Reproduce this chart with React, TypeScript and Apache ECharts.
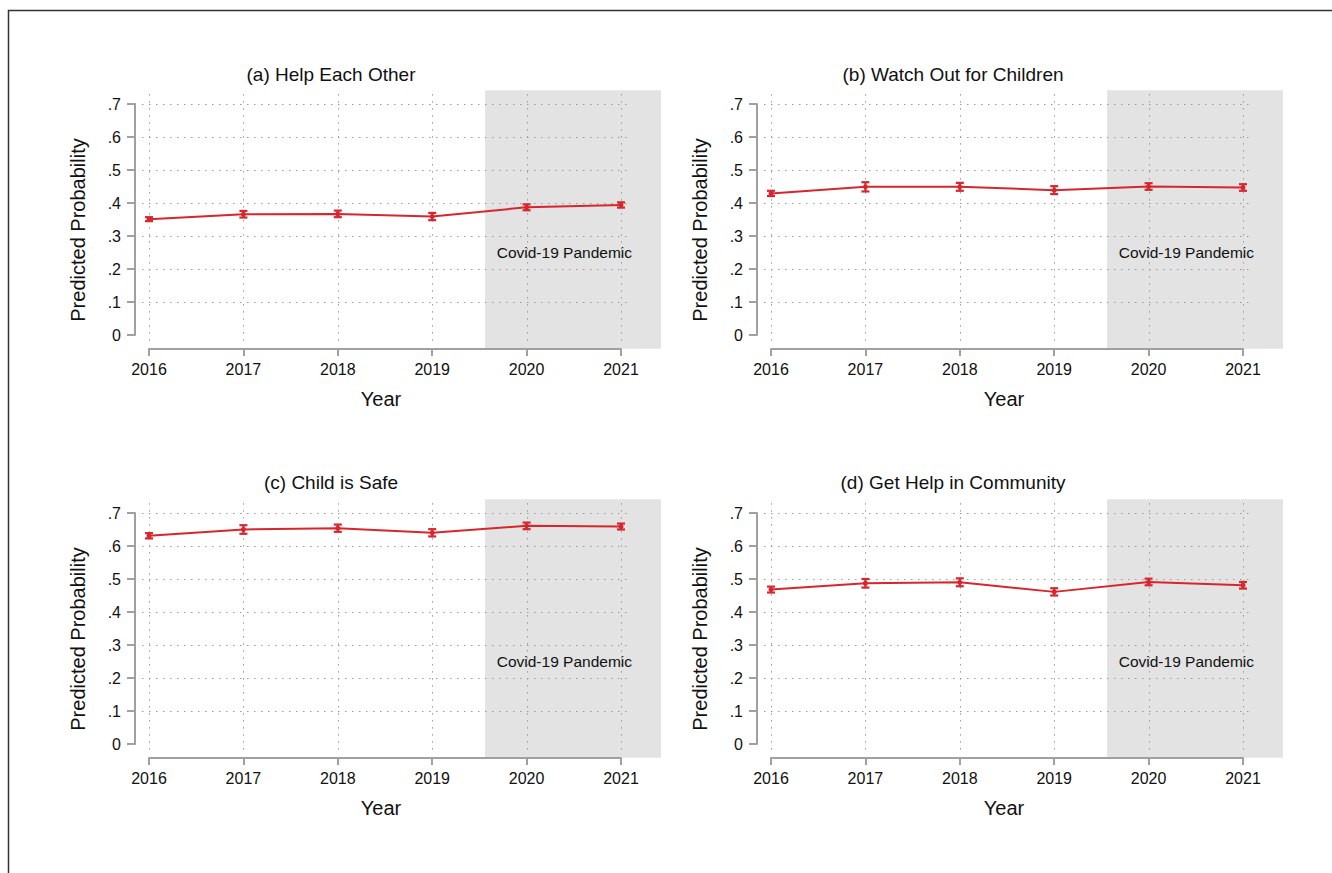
import React, { useEffect, useRef } from "react";
import * as echarts from "echarts";

const YEARS = [2016, 2017, 2018, 2019, 2020, 2021];
const Y_TICKS = [0, 0.1, 0.2, 0.3, 0.4, 0.5, 0.6, 0.7];

const PANEL_TITLES = [
  "(a) Help Each Other",
  "(b) Watch Out for Children",
  "(c) Child is Safe",
  "(d) Get Help in Community",
];
const X_TITLE = "Year";
const Y_TITLE = "Predicted Probability";

const HELP_EACH_OTHER = [0.351, 0.366, 0.367, 0.359, 0.387, 0.394];
const HELP_EACH_OTHER_CI = [0.006, 0.01, 0.01, 0.011, 0.009, 0.008];
const WATCH_CHILDREN = [0.429, 0.449, 0.449, 0.439, 0.45, 0.447];
const WATCH_CHILDREN_CI = [0.008, 0.014, 0.012, 0.012, 0.01, 0.01];
const CHILD_SAFE = [0.631, 0.65, 0.654, 0.64, 0.661, 0.659];
const CHILD_SAFE_CI = [0.008, 0.013, 0.011, 0.011, 0.01, 0.009];
const GET_HELP = [0.468, 0.487, 0.49, 0.461, 0.491, 0.481];
const GET_HELP_CI = [0.009, 0.013, 0.012, 0.011, 0.01, 0.01];

const PANEL_VALUES = [HELP_EACH_OTHER, WATCH_CHILDREN, CHILD_SAFE, GET_HELP];
const PANEL_CI = [HELP_EACH_OTHER_CI, WATCH_CHILDREN_CI, CHILD_SAFE_CI, GET_HELP_CI];

const PANDEMIC_LABEL = "Covid-19 Pandemic";
const PANDEMIC_START = 2019.56;
const PLOT_X_MIN = 2015.852;
const PLOT_X_MAX = 2021.424;
const PLOT_Y_MIN = -0.042;
const PLOT_Y_MAX = 0.742;

const FONT = "'Liberation Sans', Arial, Helvetica, sans-serif";
const RED = "#d7262d";
const AXIS_GRAY = "#a0a0a0";
const GRID_GRAY = "#9a9a9a";
const BG_GRAY = "#e2e3e2";
const TEXT = "#111";

// layout (px)
const COL_LEFT = [149, 771];
const ROW_TOP = [104, 513];
const GRID_W = 472;
const GRID_H = 231;
const TITLE_X = [331, 953];
const TITLE_Y = [74, 482];
const YNAME_X = [78, 700];
const YNAME_DY = 126; // from grid top to y-title centre
const XNAME_X = [381, 1004];
const XNAME_DY = 295; // from grid top to x-title centre

export default function App() {
  const ref = useRef<HTMLDivElement>(null);

  useEffect(() => {
    if (!ref.current) return;
    const chart = echarts.init(ref.current, null, { renderer: "svg" });

    const grids: any[] = [];
    const xAxes: any[] = [];
    const yAxes: any[] = [];
    const series: any[] = [];
    const graphics: any[] = [];

    for (let p = 0; p < 4; p++) {
      const col = p % 2;
      const row = Math.floor(p / 2);
      grids.push({
        left: COL_LEFT[col],
        top: ROW_TOP[row],
        width: GRID_W,
        height: GRID_H,
        containLabel: false,
      });
      xAxes.push({
        type: "value",
        gridIndex: p,
        min: 2016,
        max: 2021,
        interval: 1,
        offset: 14,
        axisLine: { show: true, onZero: false, lineStyle: { color: AXIS_GRAY, width: 2 } },
        axisTick: { show: true, length: 7, lineStyle: { color: AXIS_GRAY, width: 2 } },
        axisLabel: {
          fontFamily: FONT,
          fontSize: 16,
          color: TEXT,
          margin: 12,
          formatter: (v: number) => String(v),
        },
        splitLine: { show: false },
      });
      yAxes.push({
        type: "value",
        gridIndex: p,
        min: 0,
        max: 0.7,
        interval: 0.1,
        offset: 14,
        axisLine: { show: true, onZero: false, lineStyle: { color: AXIS_GRAY, width: 2 } },
        axisTick: { show: true, length: 8, lineStyle: { color: AXIS_GRAY, width: 2 } },
        axisLabel: {
          fontFamily: FONT,
          fontSize: 16,
          color: TEXT,
          margin: 14,
          formatter: (v: number) => (v === 0 ? "0" : "." + Math.round(v * 10)),
        },
        splitLine: { show: false },
      });

      // background: plot region, pandemic shading, dotted grid, label
      series.push({
        type: "custom",
        xAxisIndex: p,
        yAxisIndex: p,
        z: 0,
        silent: true,
        data: [[2016, 0]],
        renderItem: (params: any, api: any) => {
          const children: any[] = [];
          const a = api.coord([PANDEMIC_START, PLOT_Y_MAX]);
          const b = api.coord([PLOT_X_MAX, PLOT_Y_MIN]);
          children.push({
            type: "rect",
            shape: { x: a[0], y: a[1], width: b[0] - a[0], height: b[1] - a[1] },
            style: { fill: BG_GRAY },
          });
          const xl = api.coord([YEARS[0], 0])[0] - 7;
          const xr = api.coord([YEARS[YEARS.length - 1], 0])[0] + 11;
          Y_TICKS.forEach((t) => {
            if (t === 0) return;
            const y = Math.round(api.coord([2016, t])[1]) + 0.5;
            children.push({
              type: "line",
              shape: { x1: xl, y1: y, x2: xr, y2: y },
              style: { stroke: GRID_GRAY, lineWidth: 1, lineDash: [1.5, 5.5] },
            });
          });
          const yt = api.coord([2016, PLOT_Y_MAX])[1] + 4;
          const yb = api.coord([2016, PLOT_Y_MIN])[1] - 4;
          YEARS.forEach((yr) => {
            const x = Math.round(api.coord([yr, 0])[0]) + 0.5;
            children.push({
              type: "line",
              shape: { x1: x, y1: yt, x2: x, y2: yb },
              style: { stroke: GRID_GRAY, lineWidth: 1, lineDash: [1.5, 5.5] },
            });
          });
          const tp = api.coord([2020.4, 0.25]);
          children.push({
            type: "text",
            x: tp[0],
            y: tp[1],
            style: {
              text: PANDEMIC_LABEL,
              fontFamily: FONT,
              fontSize: 15.5,
              fill: TEXT,
              align: "center",
              verticalAlign: "middle",
            },
          });
          return { type: "group", children };
        },
      });

      const vals = PANEL_VALUES[p];
      const cis = PANEL_CI[p];
      series.push({
        type: "line",
        xAxisIndex: p,
        yAxisIndex: p,
        z: 3,
        data: YEARS.map((y, i) => [y, vals[i]]),
        symbol: "circle",
        symbolSize: 5,
        lineStyle: { color: RED, width: 2 },
        itemStyle: { color: RED },
      });
      series.push({
        type: "custom",
        xAxisIndex: p,
        yAxisIndex: p,
        z: 4,
        data: YEARS.map((y, i) => [y, vals[i] - cis[i], vals[i] + cis[i]]),
        encode: { x: 0, y: [1, 2] },
        renderItem: (params: any, api: any) => {
          const x = api.value(0);
          const lo = api.coord([x, api.value(1)]);
          const hi = api.coord([x, api.value(2)]);
          const hw = 4;
          const st = { stroke: RED, lineWidth: 2.2 };
          return {
            type: "group",
            children: [
              { type: "line", shape: { x1: lo[0], y1: lo[1], x2: hi[0], y2: hi[1] }, style: st },
              { type: "line", shape: { x1: lo[0] - hw, y1: lo[1], x2: lo[0] + hw, y2: lo[1] }, style: st },
              { type: "line", shape: { x1: hi[0] - hw, y1: hi[1], x2: hi[0] + hw, y2: hi[1] }, style: st },
            ],
          };
        },
      });

      graphics.push({
        type: "text",
        x: TITLE_X[col],
        y: TITLE_Y[row],
        style: {
          text: PANEL_TITLES[p],
          fontFamily: FONT,
          fontSize: 19,
          fill: TEXT,
          align: "center",
          verticalAlign: "middle",
        },
      });
      graphics.push({
        type: "text",
        x: YNAME_X[col],
        y: ROW_TOP[row] + YNAME_DY,
        rotation: Math.PI / 2,
        style: {
          text: Y_TITLE,
          fontFamily: FONT,
          fontSize: 20,
          fill: TEXT,
          align: "center",
          verticalAlign: "middle",
        },
      });
      graphics.push({
        type: "text",
        x: XNAME_X[col],
        y: ROW_TOP[row] + XNAME_DY,
        style: {
          text: X_TITLE,
          fontFamily: FONT,
          fontSize: 20,
          fill: TEXT,
          align: "center",
          verticalAlign: "middle",
        },
      });
    }

    graphics.push({
      type: "polyline",
      shape: { points: [[8.5, 873], [8.5, 10.5], [1332, 10.5]] },
      style: { stroke: "#333", lineWidth: 1.5, fill: null },
    });

    chart.setOption({
      animation: false,
      backgroundColor: "#fff",
      grid: grids,
      xAxis: xAxes,
      yAxis: yAxes,
      series,
      graphic: graphics,
    });

    return () => chart.dispose();
  }, []);

  return (
    <div
      ref={ref}
      style={{ position: "fixed", left: 0, top: 0, width: 1332, height: 873 }}
    />
  );
}
